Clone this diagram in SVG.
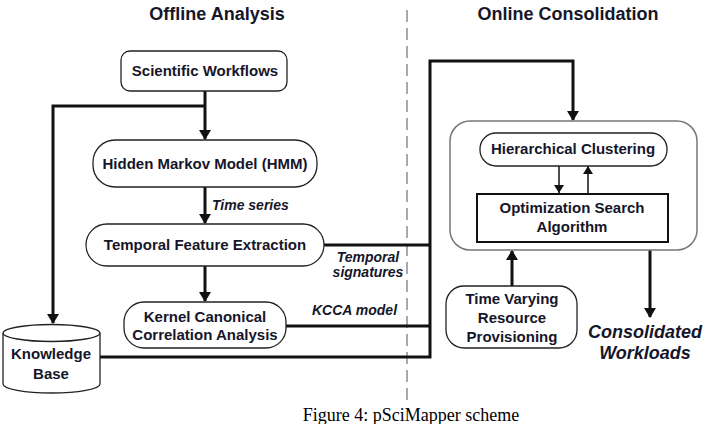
<svg xmlns="http://www.w3.org/2000/svg" width="706" height="424" viewBox="0 0 706 424">
<defs>
<style>
.t{font-family:"Liberation Sans",Arial,sans-serif;font-weight:bold;fill:#16162a;text-anchor:middle;font-size:15px}
.box{fill:#fff;stroke:#222;stroke-width:1.3}
.ln{fill:none;stroke:#111;stroke-width:3}
.thin{fill:none;stroke:#111;stroke-width:1.5}
.lab{font-family:"Liberation Sans",Arial,sans-serif;font-weight:bold;font-style:italic;fill:#16162a;font-size:14px}
</style>
<marker id="ah" markerWidth="10" markerHeight="12" refX="9" refY="6" orient="auto" markerUnits="userSpaceOnUse" viewBox="0 0 10 12">
<path d="M0,0 L10,6 L0,12 z" fill="#111"/>
</marker>
<marker id="ahs" markerWidth="8" markerHeight="10" refX="8" refY="5" orient="auto" markerUnits="userSpaceOnUse" viewBox="0 0 8 10">
<path d="M0,0 L8,5 L0,10 z" fill="#111"/>
</marker>
</defs>
<rect width="706" height="424" fill="#fff"/>
<text class="t" x="217" y="20" style="font-size:18px">Offline Analysis</text>
<text class="t" x="568" y="20" style="font-size:18px">Online Consolidation</text>
<line x1="407" y1="10" x2="407" y2="404" stroke="#555" stroke-width="1" stroke-dasharray="12,6"/>
<g id="connectors">
<path class="ln" d="M205,91 V139" marker-end="url(#ah)"/>
<path class="ln" d="M205,106 H53 V323" marker-end="url(#ah)"/>
<path class="ln" d="M205,187 V223" marker-end="url(#ah)"/>
<path class="ln" d="M205,266 V301" marker-end="url(#ah)"/>
<path class="ln" d="M324,245 H430"/>
<path class="ln" d="M286,326 H430"/>
<path class="ln" d="M100,357 H430 V61 H573 V120" marker-end="url(#ah)"/>
<path class="thin" d="M559,166 V193" marker-end="url(#ahs)"/>
<path class="thin" d="M588,193 V166" marker-end="url(#ahs)"/>
<path class="ln" d="M512,286 V251" marker-end="url(#ah)"/>
<path class="ln" d="M650,250 V317" marker-end="url(#ah)"/>
<text class="lab" x="212" y="210">Time series</text>
<text class="lab" x="368" y="262" text-anchor="middle">Temporal</text>
<text class="lab" x="368" y="277" text-anchor="middle">signatures</text>
<text class="lab" x="312" y="315">KCCA model</text>
</g>
<g id="sw"><rect class="box" x="121" y="51" width="166" height="40" rx="9"/><text class="t" x="205" y="76">Scientific Workflows</text></g>
<g id="hmm"><rect class="box" x="93" y="140" width="224" height="47" rx="22"/><text class="t" x="205" y="169">Hidden Markov Model (HMM)</text></g>
<g id="tfe"><rect class="box" x="86" y="224" width="238" height="42" rx="21"/><text class="t" x="205" y="250">Temporal Feature Extraction</text></g>
<g id="kcca"><rect class="box" x="124" y="302" width="162" height="46" rx="20"/><text class="t" x="205" y="322">Kernel Canonical</text><text class="t" x="205" y="340">Correlation Analysis</text></g>
<g id="kb">
<path class="box" d="M3,333 V384 A48.5,9 0 0 0 100,384 V333"/>
<ellipse class="box" cx="51.5" cy="333" rx="48.5" ry="8.5"/>
<text class="t" x="51" y="359">Knowledge</text><text class="t" x="51" y="379">Base</text>
</g>
<g id="online"><rect x="450" y="121" width="247" height="129" rx="20" fill="none" stroke="#777" stroke-width="1.5"/></g>
<g id="hc"><rect class="box" x="480" y="133" width="187" height="33" rx="16"/><text class="t" x="573" y="154">Hierarchical Clustering</text></g>
<g id="osa"><rect x="477" y="194" width="191" height="48" fill="#fff" stroke="#111" stroke-width="2"/><text class="t" x="572" y="213">Optimization Search</text><text class="t" x="572" y="232">Algorithm</text></g>
<g id="tvrp"><rect class="box" x="446" y="286" width="131" height="62" rx="18"/><text class="t" x="512" y="304">Time Varying</text><text class="t" x="512" y="323">Resource</text><text class="t" x="512" y="342">Provisioning</text></g>
<g id="cw"><text class="lab" x="645" y="338" text-anchor="middle" style="font-size:18px">Consolidated</text><text class="lab" x="645" y="359" text-anchor="middle" style="font-size:18px">Workloads</text></g>
<text x="411" y="421" font-family="'Liberation Serif','Times New Roman',serif" font-size="18" fill="#000" text-anchor="middle">Figure 4: pSciMapper scheme</text>
</svg>
